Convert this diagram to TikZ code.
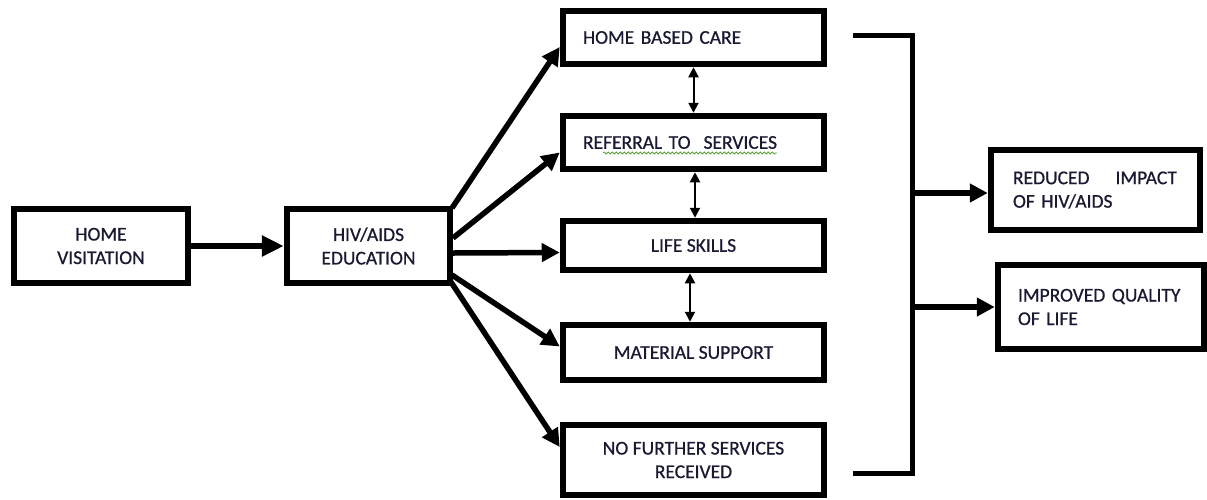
\documentclass[tikz,border=0pt]{standalone}
\usepackage{fontspec}
\setmainfont{Carlito}
\newfontfamily\boxfont[FakeBold=0.7]{Carlito}
\usetikzlibrary{arrows.meta,decorations.pathmorphing}
\definecolor{txt}{RGB}{25,25,50}
\definecolor{squig}{RGB}{90,160,60}
\begin{document}
\begin{tikzpicture}[x=1pt,y=-1pt,
  box/.style={draw, line width=6.5pt, inner sep=0pt, text=txt,
    font=\boxfont\fontsize{19.5}{23.5}\selectfont, align=center},
  lbox/.style={box, align=left, inner xsep=20pt},
  big/.style={line width=5.5pt, -{Triangle[length=18pt,width=18pt]}},
  bigger/.style={line width=5.5pt, -{Triangle[length=22pt,width=20pt]}},
  dbl/.style={line width=2pt, {Triangle[length=10pt,width=10pt]}-{Triangle[length=10pt,width=10pt]}},
  brk/.style={line width=5pt}
]
\useasboundingbox (0,0) rectangle (1207,499);

% boxes
\node[box, minimum width=174pt, minimum height=74pt] (hv) at (101,246) {HOME\\VISITATION};
\node[box, minimum width=163pt, minimum height=74pt] (hiv) at (368.5,246) {HIV/AIDS\\EDUCATION};
\node[lbox, text width=221pt, minimum height=53pt] (hbc) at (693.5,37.5) {HOME BASED CARE};
\node[lbox, text width=221pt, minimum height=53pt] (ref) at (693.5,142.5) {REFERRAL TO\ \ SERVICES};
\node[box, minimum width=261pt, minimum height=49pt] (life) at (693.5,245.5) {LIFE SKILLS};
\node[box, minimum width=261pt, minimum height=55pt] (mat) at (693.5,352.5) {MATERIAL SUPPORT};
\node[box, minimum width=261pt, minimum height=70pt] (nof) at (693.5,460) {NO FURTHER SERVICES\\RECEIVED};
\node[lbox, inner xsep=22pt, text width=165pt, minimum height=80pt] (red) at (1095.5,190) {REDUCED\hspace{26pt}IMPACT\\OF HIV/AIDS};
\node[lbox, text width=166pt, minimum height=84pt] (imp) at (1101,307) {IMPROVED QUALITY\\OF LIFE};

% spell-check squiggle
\draw[squig, line width=0.8pt, decorate, decoration={snake, amplitude=1pt, segment length=4pt}]
  (603,153) -- (777,153);

% main arrows
\draw[bigger] (hv) -- (hiv);
\coordinate (s1) at (452,208);
\coordinate (s2) at (453,238);
\coordinate (s3) at (453,253);
\coordinate (s4) at (452,275);
\coordinate (s5) at (451,282);
\draw[big] (s1) -- ([yshift=-9.5pt]hbc.west);
\draw[big] (s2) -- ([yshift=-10pt]hbc.west |- ref.west);
\draw[big] (s3) -- ([yshift=-7pt]life.west);
\draw[big] (s4) -- ([yshift=6pt]mat.west);
\draw[big] (s5) -- ([yshift=13pt]nof.west);

% double arrows
\draw[dbl] (hbc.south) -- (ref.north);
\draw[dbl] ([xshift=1.5pt]ref.south) -- ([xshift=1.5pt]life.north);
\draw[dbl] ([xshift=-3.5pt]life.south) -- ([xshift=-3.5pt]mat.north);

% bracket
\coordinate (bt) at (853,35);
\coordinate (bb) at (853,473);
\coordinate (bm1) at (912,193);
\coordinate (bm2) at (912,307);
\draw[brk] (bt) -- (912,35) -- (912,473) -- (bb);
\draw[big] (bm1) -- (red.west |- bm1);
\draw[big] (bm2) -- (imp.west |- bm2);
\end{tikzpicture}
\end{document}
